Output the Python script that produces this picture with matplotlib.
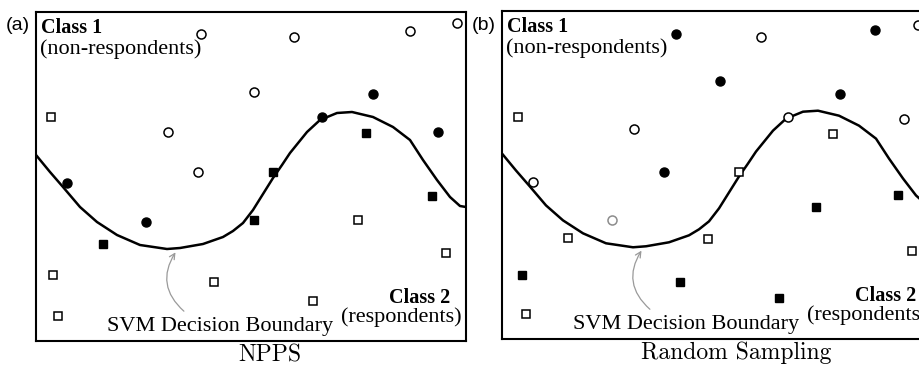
import matplotlib.pyplot as plt

# Data (panel units: x 0..430, y 0..329)
# SVM decision boundary, same shape in both panels
curve_x = [0, 14, 27, 44, 61, 81, 104, 131, 144, 167, 187, 197, 207, 217, 227, 237,
           246, 254, 271, 284, 301, 316, 337, 357, 374, 387, 401, 414, 424, 430]
curve_y = [186, 169, 154, 134, 119, 106, 96, 92, 93, 97, 104, 110, 118, 131, 147, 163,
           176, 188, 209, 221, 228, 229, 224, 214, 201, 181, 161, 144, 135, 134]

# (a) NPPS
a_open_circ_x = [165, 258, 374, 421, 218, 132, 162]
a_open_circ_y = [307, 304, 310, 318, 249, 209, 169]
a_fill_circ_x = [31, 110, 286, 337, 402]
a_fill_circ_y = [158, 119, 224, 247, 209]
a_fill_sq_x = [67, 218, 237, 330, 396]
a_fill_sq_y = [97, 121, 169, 208, 145]
a_open_sq_x = [15, 17, 22, 178, 322, 410, 277]
a_open_sq_y = [224, 66, 25, 59, 121, 88, 40]

# (b) Random Sampling
b_open_circ_x = [259, 416, 132, 31, 286, 402]
b_open_circ_y = [303, 315, 211, 157, 223, 221]
b_gray_circ_x = [110]
b_gray_circ_y = [119]
b_fill_circ_x = [174, 373, 218, 338, 162]
b_fill_circ_y = [306, 310, 259, 246, 168]
b_open_sq_x = [16, 331, 237, 66, 24, 206, 410]
b_open_sq_y = [223, 206, 168, 101, 25, 100, 88]
b_fill_sq_x = [20, 178, 314, 396, 277]
b_fill_sq_y = [64, 57, 132, 144, 41]

W, H = 920, 371
fig = plt.figure(figsize=(9.2, 3.71), dpi=100)

serif = ['Liberation Serif', 'DejaVu Serif']


def panel(left_px, top_px, bottom_px, caption, pts, gray=None):
    ax = fig.add_axes([left_px / W, (H - bottom_px) / H, 430 / W, (bottom_px - top_px) / H])
    ax.set_xlim(0, 430)
    ax.set_ylim(0, 329)
    ax.set_xticks([])
    ax.set_yticks([])
    for s in ax.spines.values():
        s.set_linewidth(1.5)

    ax.plot(curve_x, curve_y, color='black', lw=1.8, solid_capstyle='round',
            solid_joinstyle='round')

    ocx, ocy, fcx, fcy, osx, osy, fsx, fsy = pts
    ax.plot(ocx, ocy, 'o', ls='none', ms=6.5, mfc='white', mec='black', mew=1.1)
    if gray is not None:
        ax.plot(gray[0], gray[1], 'o', ls='none', ms=6.5, mfc='white', mec='#8c8c8c', mew=1.1)
    ax.plot(fcx, fcy, 'o', ls='none', ms=6.5, color='black')
    ax.plot(osx, osy, 's', ls='none', ms=5.5, mfc='white', mec='black', mew=1.1)
    ax.plot(fsx, fsy, 's', ls='none', ms=6, color='black')

    ax.text(5, 313, 'Class 1', fontsize=14.5, fontweight='bold', family=serif,
            ha='left', va='center')
    ax.text(4, 292, '(non-respondents)', fontsize=16, family=serif, ha='left', va='center')
    ax.text(414, 43, 'Class 2', fontsize=14.5, fontweight='bold', family=serif,
            ha='right', va='center', clip_on=False)
    ax.text(426, 24, '(respondents)', fontsize=16, family=serif, ha='right', va='center',
            clip_on=False)
    ax.text(71, 15, 'SVM Decision Boundary', fontsize=16, family=serif, ha='left', va='center')

    ax.annotate('', xy=(141, 91), xytext=(150, 28),
                arrowprops=dict(arrowstyle='->', color='#9a9a9a', lw=0.9,
                                connectionstyle='arc3,rad=-0.45'))

    ax.text(234, -14, caption, fontsize=17, family=['cmr10', 'DejaVu Serif'],
            ha='center', va='center', clip_on=False)
    return ax


panel(36, 12, 341, 'NPPS',
      (a_open_circ_x, a_open_circ_y, a_fill_circ_x, a_fill_circ_y,
       a_open_sq_x, a_open_sq_y, a_fill_sq_x, a_fill_sq_y))
panel(502, 11, 339, 'Random Sampling',
      (b_open_circ_x, b_open_circ_y, b_fill_circ_x, b_fill_circ_y,
       b_open_sq_x, b_open_sq_y, b_fill_sq_x, b_fill_sq_y),
      gray=(b_gray_circ_x, b_gray_circ_y))

fig.text(6 / W, 1 - 25 / H, '(a)', fontsize=14, family=['Liberation Sans', 'DejaVu Sans'],
         ha='left', va='center')
fig.text(472 / W, 1 - 25 / H, '(b)', fontsize=14, family=['Liberation Sans', 'DejaVu Sans'],
         ha='left', va='center')

fig.savefig('out.png', dpi=100)
